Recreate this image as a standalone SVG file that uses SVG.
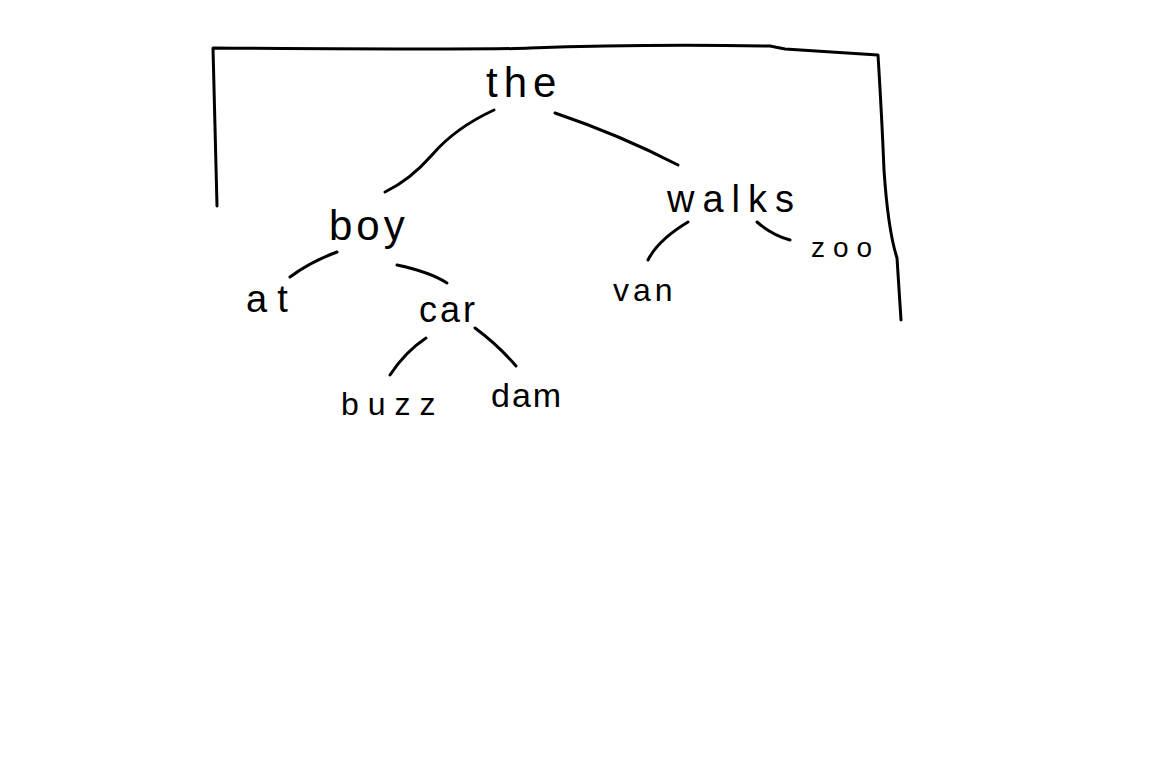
<svg xmlns="http://www.w3.org/2000/svg" width="1152" height="777" viewBox="0 0 1152 777">
<style>
.ln{fill:none;stroke:#000;stroke-width:3;stroke-linecap:round;stroke-linejoin:round}
.t{font-family:"Liberation Sans",Arial,sans-serif;fill:#000}
</style>
<rect width="1152" height="777" fill="#fff"/>
<g id="frame">
<path class="ln" d="M217,206 L213,48 Q500,50 530,48 Q640,44 770,46 L785,49 L878,55 Q882,120 884,170 Q888,230 897,258 L901,320"/>
</g>
<g id="connectors">
<path class="ln" d="M494,110 Q455,128 432,155 Q410,180 385,192"/>
<path class="ln" d="M555,113 Q620,135 678,165"/>
<path class="ln" d="M337,252 Q310,262 290,277"/>
<path class="ln" d="M397,265 Q430,272 447,283"/>
<path class="ln" d="M688,222 Q658,240 648,260"/>
<path class="ln" d="M757,222 Q772,235 790,240"/>
<path class="ln" d="M426,338 Q405,352 390,375"/>
<path class="ln" d="M475,328 Q498,345 516,366"/>
</g>
<g id="n-the"><text class="t" x="486" y="97" font-size="42" letter-spacing="6">the</text></g>
<g id="n-boy"><text class="t" x="329" y="240" font-size="42" letter-spacing="4">boy</text></g>
<g id="n-walks"><text class="t" x="667" y="212" font-size="38" letter-spacing="8">walks</text></g>
<g id="n-at"><text class="t" x="246" y="312" font-size="38" letter-spacing="10">at</text></g>
<g id="n-car"><text class="t" x="419" y="322" font-size="36" letter-spacing="3">car</text></g>
<g id="n-buzz"><text class="t" x="341" y="415" font-size="32" letter-spacing="9">buzz</text></g>
<g id="n-dam"><text class="t" x="491" y="407" font-size="34" letter-spacing="2">dam</text></g>
<g id="n-van"><text class="t" x="613" y="301" font-size="32" letter-spacing="4">van</text></g>
<g id="n-zoo"><text class="t" x="811" y="257" font-size="28" letter-spacing="8">zoo</text></g>
</svg>
